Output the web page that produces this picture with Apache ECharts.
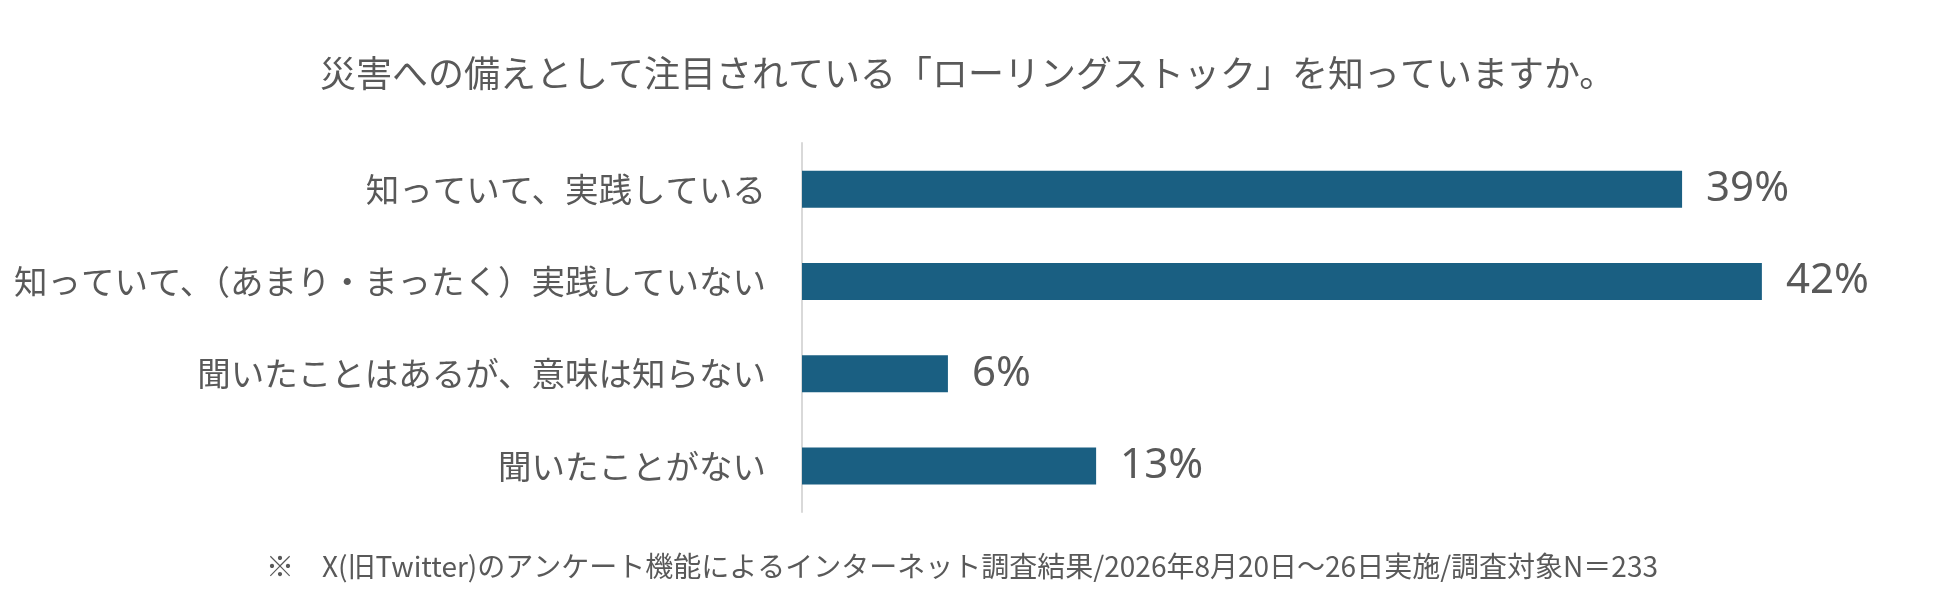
<!DOCTYPE html>
<html>
<head>
<meta charset="utf-8">
<script src="https://cdn.jsdelivr.net/npm/echarts@6/dist/echarts.min.js"></script>
<style>
html, body { margin: 0; padding: 0; background: #fff; }
#main { width: 1950px; height: 601px; }
</style>
</head>
<body>
<div id="main"></div>
<script>
// 回答項目
var categories = [
	'知っていて、実践している',
	'知っていて、（あまり・まったく）実践していない',
	'聞いたことはあるが、意味は知らない',
	'聞いたことがない'
];
// 割合（%）
var values = [38.6, 42.1, 6.4, 12.9];

var myChart = echarts.init(document.getElementById('main'));
var textColor = '#595959';
var jpFont = '"Noto Sans CJK JP", "Noto Sans", sans-serif';

var option = {
	backgroundColor: '#fff',
	title: [{
		text: '災害への備えとして注目されている「ローリングストック」を知っていますか。',
		left: 315,
		top: 50,
		textStyle: {
			color: textColor,
			fontSize: 36,
			fontWeight: 'normal',
			fontFamily: jpFont
		}
	}, {
		text: '※　X(旧Twitter)のアンケート機能によるインターネット調査結果/2026年8月20日～26日実施/調査対象N＝233',
		left: 261,
		top: 547,
		textStyle: {
			color: textColor,
			fontSize: 28,
			fontWeight: 'normal',
			fontFamily: jpFont
		}
	}],
	grid: {
		left: 802,
		right: 122,
		top: 143,
		bottom: 89,
		containLabel: false
	},
	xAxis: {
		type: 'value',
		min: 0,
		max: 45,
		show: false,
		splitLine: { show: false }
	},
	yAxis: {
		type: 'category',
		data: categories,
		inverse: true,
		axisTick: { show: false },
		axisLine: {
			show: true,
			lineStyle: { color: '#d9d9d9', width: 2 }
		},
		axisLabel: {
			color: textColor,
			fontSize: 33.5,
			fontFamily: jpFont,
			margin: 36
		}
	},
	series: [{
		type: 'bar',
		data: values,
		barWidth: 37,
		itemStyle: {
			color: '#1a5f82'
		},
		label: {
			show: true,
			position: 'right',
			distance: 24,
			color: textColor,
			fontSize: 42,
			fontFamily: '"Noto Sans", sans-serif',
			formatter: function(p) {
				return Math.round(p.value) + '%';
			}
		}
	}]
};

myChart.setOption(option);
window.addEventListener('resize', function() {
	myChart.resize();
});
</script>
</body>
</html>
